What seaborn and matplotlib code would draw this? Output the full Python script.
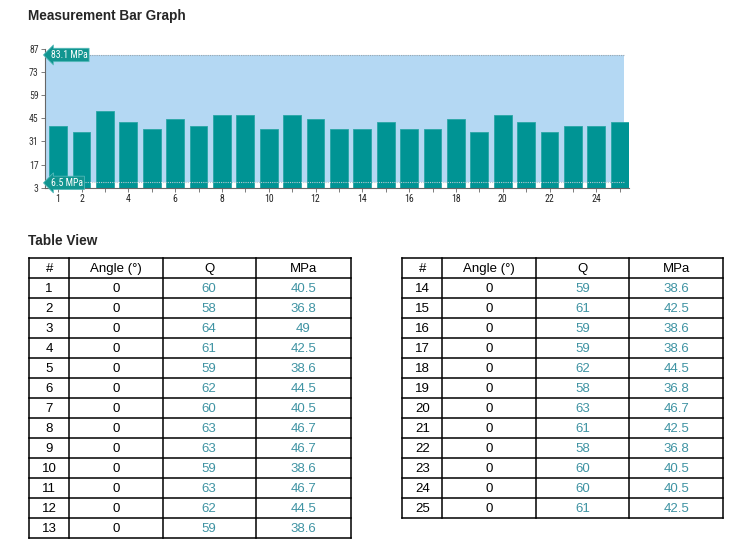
import matplotlib
matplotlib.use("Agg")
import matplotlib.pyplot as plt
from matplotlib import font_manager
import seaborn as sns
import pandas as pd
import numpy as np

# ---- data ----
ids = list(range(1, 26))
angles = [0] * 25
q_vals = [60, 58, 64, 61, 59, 62, 60, 63, 63, 59, 63, 62, 59,
          59, 61, 59, 59, 62, 58, 63, 61, 58, 60, 60, 61]
mpa_vals = [40.5, 36.8, 49, 42.5, 38.6, 44.5, 40.5, 46.7, 46.7, 38.6, 46.7, 44.5, 38.6,
            38.6, 42.5, 38.6, 38.6, 44.5, 36.8, 46.7, 42.5, 36.8, 40.5, 40.5, 42.5]
upper_limit = 83.1
lower_limit = 6.5
y_ticks = [3, 17, 31, 45, 59, 73, 87]
x_tick_labels = ["1", "2", "", "4", "", "6", "", "8", "", "10", "", "12", "", "14", "",
                 "16", "", "18", "", "20", "", "22", "", "24", ""]
headers = ["#", "Angle (°)", "Q", "MPa"]

sns.set_theme(style="white")
plt.rcParams['font.family'] = ['Liberation Sans', 'DejaVu Sans']

installed = {f.name for f in font_manager.fontManager.ttflist}
narrow_name = None
for cand in ['Liberation Sans Narrow', 'Roboto Condensed', 'Open Sans Condensed',
             'DejaVu Sans Condensed', 'Noto Sans Condensed']:
    if cand in installed:
        narrow_name = cand
        break
NARROW = ([narrow_name] if narrow_name else []) + ['Liberation Sans', 'DejaVu Sans']
nsize = 7 if narrow_name else 6.2

W, H = 745, 559
fig = plt.figure(figsize=(W / 100, H / 100), dpi=100)

BAR = "#009494"
BAND = "#b4d8f3"
TEAL_TXT = "#3f93a3"

# ---- bar chart ----
x0, x1 = 45, 628.6
ytop, ybot = 48.5, 187.7
ax = fig.add_axes([x0 / W, 1 - ybot / H, (x1 - x0) / W, (ybot - ytop) / H])
df = pd.DataFrame({"id": [str(i) for i in ids], "mpa": mpa_vals})
xl = (-0.56, 24.38)
band_end = 24.18
ax.axhspan(lower_limit, upper_limit, xmin=0, xmax=(band_end - xl[0]) / (xl[1] - xl[0]),
           color=BAND, zorder=0, lw=0)
ax.plot([xl[0], band_end], [upper_limit, upper_limit], ls=(0, (1, 1)), color="#9aa7b0", lw=0.8, zorder=1)
ax.plot([xl[0], band_end], [lower_limit, lower_limit], ls=(0, (1, 1)), color="#b9c8d2", lw=0.8, zorder=3)
sns.barplot(data=df, x="id", y="mpa", color=BAR, width=0.757, saturation=1,
            edgecolor="#2aa6a6", linewidth=0.6, ax=ax, zorder=2)
ax.set_xlim(*xl)
ax.set_ylim(3, 87)
ax.set_yticks(y_ticks)
ax.set_yticklabels([str(t) for t in y_ticks], family=NARROW, fontsize=nsize, color="#333333")
ax.set_xticks(range(25))
ax.set_xticklabels(x_tick_labels, family=NARROW, fontsize=nsize, color="#222222")
ax.set_xlabel("")
ax.set_ylabel("")
for s in ("top", "right"):
    ax.spines[s].set_visible(False)
for s in ("left", "bottom"):
    ax.spines[s].set_color("#666666")
    ax.spines[s].set_linewidth(0.8)
ax.tick_params(axis="both", length=3, width=0.6, color="#666666", pad=1.5, left=True, bottom=True)

for v in (upper_limit, lower_limit):
    ax.annotate(f"{v} MPa", xy=(-0.32, v - (0 if v > 50 else 0.6)), xycoords="data",
                fontsize=nsize, family=NARROW, color="white", va="center", ha="left",
                zorder=5,
                bbox=dict(boxstyle="larrow,pad=0.18", fc="#119590", ec="#5fc0c0", lw=0.5))

# ---- titles and tables ----
tax = fig.add_axes([0, 0, 1, 1])
tax.set_xlim(0, W)
tax.set_ylim(H, 0)
tax.axis("off")
tax.text(28, 16, "Measurement Bar Graph", fontsize=9.8, fontweight="bold", va="center", ha="left")
tax.text(28, 241, "Table View", fontsize=9.8, fontweight="bold", va="center", ha="left")


def draw_table(cols, top, rows):
    rh = 20
    n = len(rows) + 1
    bottom = top + n * rh
    for c in cols:
        tax.plot([c, c], [top, bottom], color="black", lw=1.1, solid_capstyle="projecting")
    for r in range(n + 1):
        y = top + r * rh
        tax.plot([cols[0], cols[-1]], [y, y], color="black", lw=1.1, solid_capstyle="projecting")
    for j, h in enumerate(headers):
        tax.text((cols[j] + cols[j + 1]) / 2, top + rh / 2 + 0.5, h, ha="center", va="center",
                 fontsize=9.5, color="black")
    for i, row in enumerate(rows):
        yc = top + (i + 1) * rh + rh / 2 + 0.5
        for j, val in enumerate(row):
            color = "black" if j < 2 else TEAL_TXT
            tax.text((cols[j] + cols[j + 1]) / 2, yc, str(val), ha="center", va="center",
                     fontsize=9.5, color=color)


rows_all = list(zip(ids, angles, q_vals, mpa_vals))
draw_table([29, 69.3, 162.7, 255.7, 351], 258.3, rows_all[:13])
draw_table([402.3, 442.3, 535.7, 629, 723.3], 258.3, rows_all[13:])

fig.savefig("out.png", dpi=100)
